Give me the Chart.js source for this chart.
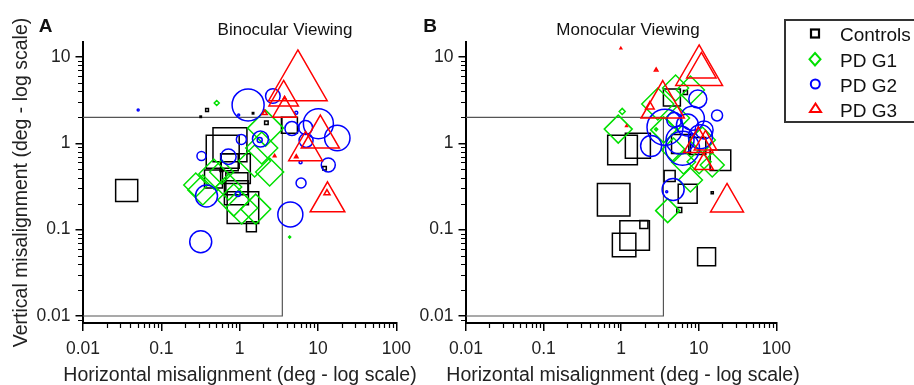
<!DOCTYPE html>
<html><head><meta charset="utf-8">
<script src="https://cdn.jsdelivr.net/npm/chart.js@4/dist/chart.umd.min.js"></script>
<style>
html,body{margin:0;padding:0;background:#fff;width:914px;height:385px;overflow:hidden;font-family:"Liberation Sans",Arial,Helvetica,sans-serif;}
canvas{position:absolute;top:0;}
#ca{left:0;}
#cb{left:400px;}
.t{position:absolute;white-space:nowrap;color:#111;line-height:1;transform:translate(-50%,-50%);}
.l{position:absolute;white-space:nowrap;color:#111;line-height:1;transform:translateY(-50%);font-size:19px;left:840px;}
#legend{position:absolute;left:784px;top:19px;width:220px;height:104px;border:2px solid #333;box-sizing:border-box;background:#fff;}
#legsvg{position:absolute;left:0;top:0;}
</style>
</head><body>
<canvas id="ca" width="420" height="385"></canvas>
<canvas id="cb" width="400" height="385"></canvas>
<div class="t" style="left:45.5px;top:25px;font-size:19px;font-weight:bold;">A</div>
<div class="t" style="left:430px;top:25px;font-size:19px;font-weight:bold;">B</div>
<div class="t" style="left:285px;top:29px;font-size:17px;">Binocular Viewing</div>
<div class="t" style="left:628px;top:29px;font-size:17px;">Monocular Viewing</div>
<div class="t" id="xtA" style="left:240px;top:375px;font-size:19.5px;color:#222;"></div>
<div class="t" id="xtB" style="left:623px;top:375px;font-size:19.5px;color:#222;"></div>
<div id="legend"></div>
<svg id="legsvg" width="914" height="385" style="pointer-events:none">
  <rect x="811" y="29.5" width="8" height="8" fill="none" stroke="#000" stroke-width="2.2"/>
  <polygon points="815,53 820.5,59.2 815,65.4 809.5,59.2" fill="none" stroke="#00e000" stroke-width="2"/>
  <circle cx="815.3" cy="84" r="4.5" fill="none" stroke="#0000ff" stroke-width="2"/>
  <polygon points="815.5,103.5 821,112 810,112" fill="none" stroke="#ff0000" stroke-width="2"/>
</svg>
<div class="l" style="top:34px;">Controls</div>
<div class="l" style="top:60px;">PD G1</div>
<div class="l" style="top:85px;">PD G2</div>
<div class="l" style="top:109.5px;">PD G3</div>
<script>
// ---------------- data ----------------
const seriesNames = ["Controls", "PD G1", "PD G2", "PD G3"];
const xAxisTitle = "Horizontal misalignment (deg - log scale)";
const yAxisTitle = "Vertical misalignment (deg - log scale)";
const xTickValues = [0.01, 0.1, 1, 10, 100];
const yTickValues = [0.01, 0.1, 1, 10];
const xRange = [0.01, 100];
const yRange = [0.0083, 14.9];
// reference box (thresholds)
const boxX = [0.01, 3.5, 3.5, 0.01];
const boxY = [2, 2, 0.01, 0.01];

// Panel A - Binocular viewing
const binoControlsX = [0.0361, 0.751, 0.607, 0.746, 0.883, 0.463, 0.920, 0.908, 1.10, 1.41, 4.31, 2.19, 12.1, 0.383, 0.318, 1.48, 0.585];
const binoControlsY = [0.284, 0.964, 0.80, 0.603, 0.508, 0.386, 0.340, 0.267, 0.180, 0.108, 1.62, 1.73, 0.513, 2.43, 2.03, 2.23, 0.491];
const binoControlsSize = [15.6, 24, 23.3, 12, 21, 12.7, 15.6, 17, 22.3, 7, 11.3, 2.5, 2.5, 2, 1, 1, 2];

const binoG1X = [0.275, 0.338, 0.467, 0.590, 0.724, 0.839, 1.06, 1.60, 1.55, 1.91, 2.14, 2.41, 0.509, 4.34];
const binoG1Y = [0.329, 0.288, 0.441, 0.465, 0.312, 0.220, 0.178, 0.173, 0.624, 0.883, 1.50, 0.465, 2.93, 0.082];
const binoG1Size = [12, 15, 15, 12, 13, 16, 16, 15, 16, 16, 18, 14, 2.5, 1];

const binoG2X = [1.28, 2.65, 10.1, 17.6, 4.64, 6.93, 7.03, 13.5, 6.07, 4.43, 0.318, 0.377, 0.325, 0.718, 1.05, 1.84, 1.80, 0.95, 0.0506, 0.97, 5.27, 5.98];
const binoG2Y = [2.78, 3.53, 1.69, 1.15, 1.48, 1.52, 1.08, 0.561, 0.347, 0.150, 0.0724, 0.245, 0.713, 0.700, 1.11, 1.12, 1.09, 0.259, 2.43, 2.13, 2.26, 0.603];
const binoG2Size = [16, 7.3, 15, 12.7, 7, 7, 7, 7, 5, 12.5, 11, 11, 4.5, 7.7, 5, 8, 2.5, 2.5, 1, 1, 1.5, 1.5];

const binoG3X = [5.53, 3.64, 3.74, 10.7, 6.93, 13.2, 13.0, 2.08, 2.79, 5.27, 3.74];
const binoG3Y = [4.89, 3.40, 2.41, 1.18, 0.815, 0.210, 0.265, 2.24, 0.713, 0.700, 3.35];
const binoG3Size = [33.8, 17, 13.7, 22, 19.5, 20, 3.5, 3, 1.5, 2, 1.5];

// Panel B - Monocular viewing
const monoControlsX = [1.04, 1.64, 0.80, 1.49, 1.09, 1.96, 12.6, 4.50, 4.21, 7.19, 5.60, 19.0, 5.90, 6.73, 14.9, 9.57];
const monoControlsY = [0.836, 0.935, 0.222, 0.0857, 0.0663, 0.115, 0.0485, 3.39, 0.418, 0.260, 0.169, 0.636, 0.98, 3.88, 0.268, 0.931];
const monoControlsSize = [21, 17.7, 23, 20.9, 16.6, 5.7, 12.7, 12, 7.8, 13.4, 3.5, 14.6, 13.4, 2.8, 1.5, 12];

const monoG1X = [0.916, 1.03, 2.96, 5.02, 7.80, 3.53, 5.32, 6.35, 10.1, 14.9, 7.80, 3.97, 11.1, 4.73, 2.82];
const monoG1Y = [1.46, 2.34, 2.85, 4.37, 4.15, 1.43, 1.96, 0.607, 0.612, 0.561, 0.376, 0.166, 1.09, 0.836, 1.45];
const monoG1Size = [14, 3, 16, 13, 14, 13, 12, 12, 12, 12, 12, 12, 13, 12, 1.5];

const monoG2X = [3.67, 4.83, 9.71, 17.2, 8.26, 6.17, 5.73, 10.5, 2.43, 4.67, 7.14, 11.7, 3.86];
const monoG2Y = [1.53, 1.86, 3.26, 2.10, 1.95, 0.875, 1.09, 1.19, 0.931, 0.292, 1.63, 1.43, 0.275];
const monoG2Size = [18, 7.5, 9, 5.5, 12, 17, 14, 12, 10.5, 11, 11, 9, 1];

const monoG3X = [10.1, 10.8, 3.43, 2.34, 2.82, 0.99, 1.17, 9.86, 12.2, 11.6, 23.1];
const monoG3Y = [6.70, 7.16, 2.74, 2.67, 7.07, 12.6, 1.59, 0.98, 0.995, 0.575, 0.207];
const monoG3Size = [27, 17, 25, 5, 2, 1, 1, 17, 13, 11, 19];

// ---------------- rendering ----------------
const FONT = "'Liberation Sans', Arial, Helvetica, sans-serif";
const styles = ['rect', 'rectRot', 'circle', 'triangle'];
const colors = ['#000000', '#00e000', '#0000ff', '#ff0000'];
document.getElementById('xtA').textContent = xAxisTitle;
document.getElementById('xtB').textContent = xAxisTitle;

function pts(xs, ys) { return xs.map((x, i) => ({x: x, y: ys[i]})); }

function groupSet(idx, xs, ys, sizes) {
  return {
    label: seriesNames[idx], data: pts(xs, ys),
    pointStyle: styles[idx], pointRadius: sizes, pointHoverRadius: sizes,
    borderColor: colors[idx], pointBorderColor: colors[idx],
    backgroundColor: 'rgba(0,0,0,0)', pointBackgroundColor: 'rgba(0,0,0,0)',
    pointBorderWidth: 1.5, showLine: false, order: 4 - idx, clip: false
  };
}
function boxSet() {
  return {label: 'box', data: pts(boxX, boxY), showLine: true, pointRadius: 0,
    borderColor: '#555', borderWidth: 1.2, fill: false, tension: 0, order: 10};
}

const minorTicks = {
  id: 'minorTicks',
  afterDraw(chart) {
    const ctx = chart.ctx, xs = chart.scales.x, ys = chart.scales.y, a = chart.chartArea;
    ctx.save();
    ctx.strokeStyle = '#000'; ctx.lineWidth = 1.2;
    ctx.beginPath();
    for (let e = -3; e <= 2; e++) {
      for (let k = 2; k <= 9; k++) {
        const v = k * Math.pow(10, e);
        if (v > xs.min && v < xs.max) { const p = Math.round(xs.getPixelForValue(v)) + 0.5; ctx.moveTo(p, a.bottom); ctx.lineTo(p, a.bottom + 5); }
        if (v > ys.min && v < ys.max) { const p = Math.round(ys.getPixelForValue(v)) + 0.5; ctx.moveTo(a.left, p); ctx.lineTo(a.left - 5, p); }
      }
    }
    ctx.stroke();
    ctx.restore();
  }
};

function scales(yWidth, showYTitle) {
  const grid = {display: true, drawOnChartArea: false, drawTicks: true, tickWidth: 1.5, tickColor: '#000', lineWidth: 1.5, color: '#000'};
  return {
    x: {
      type: 'logarithmic', min: xRange[0], max: xRange[1],
      afterBuildTicks: s => { s.ticks = xTickValues.map(v => ({value: v})); },
      afterFit: s => { s.height = 62; },
      grid: Object.assign({}, grid, {tickLength: 8}),
      border: {display: true, color: '#000', width: 2},
      ticks: {callback: v => String(v), font: {family: FONT, size: 17.5, lineHeight: 1}, color: '#222', padding: 9, maxRotation: 0, autoSkip: false},
      title: {display: false}
    },
    y: {
      type: 'logarithmic', min: yRange[0], max: yRange[1],
      afterBuildTicks: s => { s.ticks = yTickValues.map(v => ({value: v})); },
      afterFit: s => { s.width = yWidth; },
      grid: Object.assign({}, grid, {tickLength: 7.5}),
      border: {display: true, color: '#000', width: 2},
      ticks: {callback: v => String(v), font: {family: FONT, size: 17.5, lineHeight: 1}, color: '#222', padding: 5, autoSkip: false},
      title: {display: showYTitle, text: yAxisTitle, font: {family: FONT, size: 19.5, lineHeight: 1}, color: '#222', padding: {top: 12, bottom: 0}}
    }
  };
}

function makeChart(id, sets, yWidth, showYTitle, rightPad) {
  return new Chart(document.getElementById(id), {
    type: 'scatter',
    data: {datasets: sets},
    options: {
      responsive: false, animation: false, events: [],
      layout: {autoPadding: false, padding: {left: 0, right: rightPad, top: 42, bottom: 0}},
      plugins: {legend: {display: false}, tooltip: {enabled: false}, title: {display: false}},
      scales: scales(yWidth, showYTitle)
    },
    plugins: [minorTicks]
  });
}

makeChart('ca', [
  boxSet(),
  groupSet(0, binoControlsX, binoControlsY, binoControlsSize),
  groupSet(1, binoG1X, binoG1Y, binoG1Size),
  groupSet(2, binoG2X, binoG2Y, binoG2Size),
  groupSet(3, binoG3X, binoG3Y, binoG3Size)
], 83, true, 23);

makeChart('cb', [
  boxSet(),
  groupSet(0, monoControlsX, monoControlsY, monoControlsSize),
  groupSet(1, monoG1X, monoG1Y, monoG1Size),
  groupSet(2, monoG2X, monoG2Y, monoG2Size),
  groupSet(3, monoG3X, monoG3Y, monoG3Size)
], 66, false, 20);
</script>
</body></html>
